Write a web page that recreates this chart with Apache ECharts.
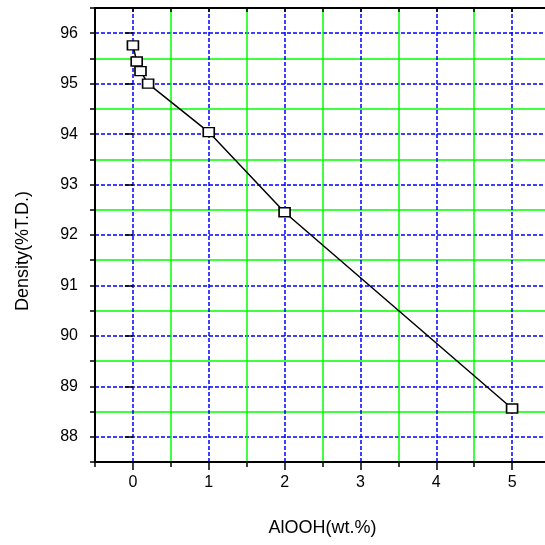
<!DOCTYPE html>
<html>
<head>
<meta charset="utf-8">
<script src="https://cdn.jsdelivr.net/npm/echarts@6/dist/echarts.min.js"></script>
<style>
  html, body { margin: 0; padding: 0; background: #fff; }
  #chart { width: 545px; height: 545px; }
</style>
</head>
<body>
<div id="chart"></div>
<script>
// AlOOH content (wt.%) and sintered density (%T.D.)
const alooh = [0, 0.05, 0.1, 0.2, 1, 2, 5];
const density = [95.76, 95.44, 95.25, 95.0, 94.04, 92.45, 88.56];

const xRange = [-0.5, 5.5];
const yRange = [87.5, 96.5];
const xMajor = [0, 1, 2, 3, 4, 5];
const yMajor = [88, 89, 90, 91, 92, 93, 94, 95, 96];
const step = 0.5;

const BLUE = '#0000ff';
const GREEN = '#00ff00';
const NONE = 'rgba(0,0,0,0)';

// one colour per split line: integers get the blue dashed grid, halves the green one
function gridColors(range, onInteger, color) {
    const out = [];
    for (let v = range[0]; v <= range[1] + 1e-9; v += step) {
        const isInt = Math.abs(v - Math.round(v)) < 1e-6;
        const edge = Math.abs(v - range[0]) < 1e-6 || Math.abs(v - range[1]) < 1e-6;
        out.push(!edge && isInt === onInteger ? color : NONE);
    }
    return out;
}

const font = 'Liberation Sans, Arial, sans-serif';
const intLabel = v => Math.abs(v - Math.round(v)) < 1e-6 ? String(Math.round(v)) : '';

const hidden = { axisLine: { show: false }, axisTick: { show: false }, axisLabel: { show: false }, splitLine: { show: false } };
const black = { color: '#000', width: 1.5 };
const plot = { left: 95, top: 8, width: 455, height: 454, outerBoundsMode: 'none' };

function axis(extra, range, gridIndex) {
    return Object.assign({ type: 'value', gridIndex, min: range[0], max: range[1], interval: step }, hidden, extra);
}

const chart = echarts.init(document.getElementById('chart'));
chart.setOption({
    animation: false,
    backgroundColor: '#fff',
    // two identical grids: one for labels + minor ticks + blue grid, one for major ticks + green grid
    grid: [plot, plot],
    xAxis: [
        axis({
            position: 'bottom',
            name: 'AlOOH(wt.%)', nameLocation: 'middle', nameGap: 57,
            nameTextStyle: { fontFamily: font, fontSize: 18, color: '#000' },
            axisLine: { show: true, onZero: false, lineStyle: { color: '#000', width: 2 } },
            axisTick: { show: true, inside: false, length: 5, lineStyle: black },
            axisLabel: { show: true, formatter: v => v < 0 ? '' : intLabel(v), fontFamily: font, fontSize: 16, color: '#000', margin: 13 }
        }, xRange, 0),
        axis({
            position: 'top',
            axisLine: { show: true, onZero: false, lineStyle: { color: '#000', width: 2 } },
            axisTick: { show: true, inside: true, length: 4, lineStyle: black },
            splitLine: { show: true, lineStyle: { color: gridColors(xRange, true, BLUE), width: 1.5, type: [4, 2] } }
        }, xRange, 0),
        axis({
            position: 'bottom',
            axisTick: { show: true, inside: false, length: 8, lineStyle: black, customValues: xMajor }
        }, xRange, 1),
        axis({
            position: 'top',
            splitLine: { show: true, lineStyle: { color: gridColors(xRange, false, GREEN), width: 1.5, type: 'solid' } }
        }, xRange, 1)
    ],
    yAxis: [
        axis({
            position: 'left',
            name: 'Density(%T.D.)', nameLocation: 'middle', nameGap: 63,
            nameTextStyle: { fontFamily: font, fontSize: 18, color: '#000', padding: [0, 32, 0, 0] },
            axisLine: { show: true, onZero: false, lineStyle: { color: '#000', width: 2 } },
            axisTick: { show: true, inside: false, length: 5, lineStyle: black },
            axisLabel: { show: true, formatter: intLabel, fontFamily: font, fontSize: 16, color: '#000', margin: 17 }
        }, yRange, 0),
        axis({
            position: 'right',
            splitLine: { show: true, lineStyle: { color: gridColors(yRange, true, BLUE), width: 1.5, type: [4, 2] } }
        }, yRange, 0),
        axis({
            position: 'left',
            axisTick: { show: true, inside: false, length: 8, lineStyle: black, customValues: yMajor }
        }, yRange, 1),
        axis({
            position: 'right',
            splitLine: { show: true, lineStyle: { color: gridColors(yRange, false, GREEN), width: 1.5, type: 'solid' } }
        }, yRange, 1)
    ],
    series: [{
        type: 'line',
        xAxisIndex: 0,
        yAxisIndex: 0,
        data: alooh.map((x, i) => [x, density[i]]),
        symbol: 'rect',
        symbolSize: [11, 9],
        showAllSymbol: true,
        lineStyle: { color: '#000', width: 1.5 },
        itemStyle: { color: '#fff', borderColor: '#000', borderWidth: 1.5 },
        z: 5
    }]
});
</script>
</body>
</html>
